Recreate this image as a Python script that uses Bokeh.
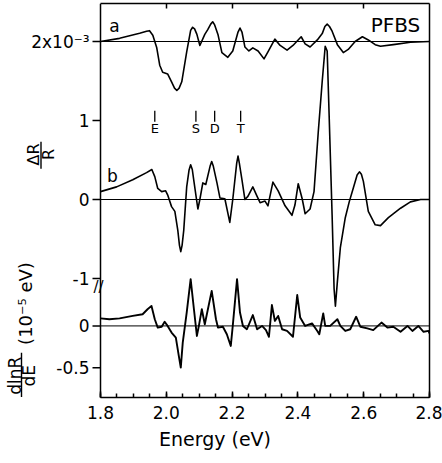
import math
from bokeh.plotting import figure
from bokeh.models import (Range1d, FixedTicker, LinearAxis, Span, Label,
                          ColumnDataSource, PrintfTickFormatter)
from bokeh.core.properties import value
from bokeh.embed import file_html
from bokeh.resources import INLINE

# ---------------- data ----------------
# (a) dR/R in units of 1e-3, drawn on a zero line at 2x10^-3
a_energy = [1.80, 1.858, 1.919, 1.940, 1.949, 1.959, 1.971, 1.980, 1.989, 2.004,
            2.016, 2.025, 2.032, 2.039, 2.047, 2.062, 2.074, 2.080, 2.086, 2.093,
            2.102, 2.117, 2.126, 2.135, 2.141, 2.147, 2.157, 2.169, 2.187, 2.202,
            2.218, 2.224, 2.230, 2.239, 2.251, 2.263, 2.279, 2.297, 2.309, 2.330,
            2.346, 2.367, 2.385, 2.410, 2.422, 2.437, 2.459, 2.474, 2.482, 2.489,
            2.496, 2.504, 2.520, 2.538, 2.553, 2.574, 2.596, 2.614, 2.635, 2.651,
            2.690, 2.742, 2.80]
a_values = [0.0, 0.04, 0.105, 0.13, 0.137, 0.08, -0.08, -0.30, -0.39, -0.41,
            -0.51, -0.59, -0.62, -0.59, -0.51, -0.13, 0.14, 0.18, 0.16, 0.09,
            -0.05, 0.09, 0.15, 0.22, 0.25, 0.21, 0.09, -0.14, -0.20, -0.12,
            0.12, 0.17, 0.12, -0.07, -0.12, -0.08, -0.12, -0.22, -0.13, 0.03,
            -0.05, -0.11, -0.05, 0.06, -0.03, -0.07, 0.02, 0.10, 0.19, 0.22,
            0.19, 0.13, -0.04, -0.14, -0.10, 0.0, 0.06, 0.02, -0.04, -0.06,
            -0.04, -0.01, 0.0]

# (b) dR/R in units of 1e-3
b_energy = [1.80, 1.849, 1.898, 1.940, 1.956, 1.965, 1.974, 1.986, 1.998, 2.004,
            2.016, 2.026, 2.035, 2.040, 2.044, 2.048, 2.053, 2.062, 2.069, 2.074,
            2.079, 2.084, 2.096, 2.102, 2.111, 2.120, 2.133, 2.138, 2.143, 2.154,
            2.163, 2.178, 2.193, 2.202, 2.214, 2.218, 2.222, 2.230, 2.239, 2.248,
            2.263, 2.276, 2.285, 2.300, 2.309, 2.324, 2.340, 2.361, 2.382, 2.391,
            2.401, 2.413, 2.422, 2.437, 2.449, 2.462, 2.474, 2.483, 2.489, 2.495,
            2.504, 2.510, 2.514, 2.520, 2.529, 2.544, 2.556, 2.568, 2.580, 2.587,
            2.593, 2.599, 2.614, 2.635, 2.651, 2.675, 2.712, 2.742, 2.773, 2.80]
b_values = [0.10, 0.16, 0.25, 0.34, 0.38, 0.29, 0.14, 0.10, 0.11, 0.06,
            -0.09, -0.15, -0.39, -0.58, -0.66, -0.58, -0.39, 0.16, 0.37, 0.44,
            0.38, 0.23, -0.12, 0.0, 0.21, 0.19, 0.42, 0.48, 0.42, 0.21,
            0.02, 0.01, -0.29, 0.0, 0.46, 0.55, 0.46, 0.25, 0.0, 0.04,
            0.16, 0.04, -0.04, -0.02, -0.08, 0.22, 0.11, -0.08, -0.20, -0.07,
            0.20, 0.01, -0.18, -0.12, 0.10, 0.86, 1.50, 1.94, 1.88, 1.06,
            -0.20, -1.13, -1.35, -1.04, -0.61, -0.23, -0.03, 0.14, 0.31, 0.35,
            0.32, 0.23, -0.15, -0.32, -0.33, -0.23, -0.11, -0.03, 0.0, 0.0]

# (c) dlnR/dE in units of 1e-5 eV^-1
c_energy = [1.80, 1.827, 1.858, 1.898, 1.928, 1.943, 1.955, 1.965, 1.974, 1.986,
            1.995, 2.004, 2.016, 2.029, 2.038, 2.044, 2.050, 2.062, 2.074, 2.084,
            2.093, 2.099, 2.108, 2.117, 2.138, 2.151, 2.157, 2.172, 2.184, 2.196,
            2.202, 2.215, 2.224, 2.233, 2.245, 2.263, 2.276, 2.291, 2.303, 2.312,
            2.321, 2.330, 2.340, 2.352, 2.367, 2.385, 2.398, 2.407, 2.422, 2.443,
            2.459, 2.465, 2.477, 2.483, 2.498, 2.520, 2.529, 2.544, 2.559, 2.577,
            2.590, 2.611, 2.629, 2.654, 2.672, 2.690, 2.712, 2.733, 2.748, 2.766,
            2.782, 2.797, 2.80]
c_values = [0.09, 0.08, 0.09, 0.12, 0.14, 0.20, 0.24, 0.08, -0.02, -0.01,
            0.05, 0.0, -0.08, -0.14, -0.36, -0.50, -0.20, 0.16, 0.56, 0.20,
            -0.12, 0.0, 0.20, 0.02, 0.42, 0.08, -0.02, -0.01, -0.10, -0.24,
            0.0, 0.56, 0.16, 0.0, -0.04, 0.13, -0.04, 0.0, -0.05, -0.13,
            0.25, 0.06, 0.12, -0.04, -0.06, -0.13, 0.37, 0.10, 0.0, 0.03,
            -0.06, -0.10, 0.15, 0.0, 0.0, 0.08, 0.0, -0.06, -0.04, 0.11,
            -0.01, -0.03, -0.05, 0.04, -0.02, -0.01, -0.07, 0.0, -0.06, 0.0,
            -0.07, -0.06, -0.09]

marker_labels = ["E", "S", "D", "T"]
marker_energy = [1.965, 2.090, 2.147, 2.226]

x_ticks = [1.8, 2.0, 2.2, 2.4, 2.6, 2.8]
x_minor_ticks = [round(1.8 + 0.05 * i, 2) for i in range(21)]
top_ticks = [2.0, 2.2, 2.4, 2.6]

# stacking of the three traces on one vertical scale
A_OFFSET = 2.0
C_OFFSET = -1.60
C_SCALE = 1.056

y_ticks = [A_OFFSET, 1.0, 0.0, -1.0, C_OFFSET, C_OFFSET - 0.5 * C_SCALE]
y_tick_labels = ["2x10\u207b\u00b3", "1", "0", "-1", "0", "-0.5"]

# ---------------- layout ----------------
FONT = "DejaVu Sans"
E_MIN, E_MAX = 1.8, 2.8
LEFT_PX = 100          # room left of the E=1.8 spine (inside the frame)
PLOT_PX = 329          # width of the data box
PX = (E_MAX - E_MIN) / PLOT_PX   # eV per pixel


def sx(px):
    """horizontal layout position (pixels from the left edge) -> energy axis"""
    return E_MIN + (px - LEFT_PX) * PX


p = figure(width=442, height=463, output_backend="svg", toolbar_location=None,
           x_range=Range1d(sx(0), E_MAX), y_range=Range1d(-2.506, 2.481),
           y_axis_location=None,
           min_border_left=0, min_border_right=13, min_border_top=3,
           min_border_bottom=66)
p.xgrid.visible = False
p.ygrid.visible = False
p.outline_line_color = None

xa = p.xaxis[0]
xa.bounds = (E_MIN, E_MAX)
xa.ticker = FixedTicker(ticks=x_ticks, minor_ticks=x_minor_ticks)
xa.formatter = PrintfTickFormatter(format="%.1f")
xa.major_tick_in = 6
xa.major_tick_out = 0
xa.minor_tick_in = 4
xa.minor_tick_out = 0
xa.major_label_standoff = 8
xa.major_label_text_font = FONT
xa.major_label_text_font_size = "17px"
xa.major_label_text_color = "black"
xa.axis_label = "Energy (eV)"
xa.axis_label_text_font = FONT
xa.axis_label_text_font_size = "19px"
xa.axis_label_text_font_style = "normal"
xa.axis_label_text_color = "black"
xa.axis_label_standoff = 6
xa.axis_line_width = 1.5
xa.major_tick_line_width = 1.5
xa.minor_tick_line_width = 1.5

top = LinearAxis(ticker=FixedTicker(ticks=top_ticks, minor_ticks=[]),
                 bounds=(E_MIN, E_MAX),
                 major_label_overrides={t: "" for t in top_ticks},
                 major_tick_in=5, major_tick_out=0, minor_tick_in=0,
                 minor_tick_out=0, major_label_standoff=0,
                 major_label_text_font_size="1px", axis_line_width=1.5,
                 major_tick_line_width=1.5)
p.add_layout(top, "above")

right = LinearAxis(ticker=FixedTicker(ticks=[], minor_ticks=[]),
                   major_tick_in=0, major_tick_out=0, minor_tick_in=0,
                   minor_tick_out=0, major_label_text_font_size="1px",
                   major_label_standoff=0, axis_line_width=1.5)
p.add_layout(right, "right")

# left spine of the data box
p.add_layout(Span(location=E_MIN, dimension="height", line_color="black",
                  line_width=1.5))

# vertical scale: ticks pointing outward and their labels
p.segment(x0=[sx(LEFT_PX - 8)] * len(y_ticks), x1=[E_MIN] * len(y_ticks),
          y0=y_ticks, y1=y_ticks, line_color="black", line_width=1.5)
p.text(x=[sx(LEFT_PX - 11)] * len(y_ticks), y=y_ticks, text=y_tick_labels,
       text_align="right", text_baseline="middle", text_font=value(FONT),
       text_font_size="17px", text_color="black")

# zero lines of the three traces
zero_lines = [A_OFFSET, 0.0, C_OFFSET]
p.segment(x0=[E_MIN] * 3, x1=[E_MAX] * 3, y0=zero_lines, y1=zero_lines,
          line_color="black", line_width=1)

# traces
src_a = ColumnDataSource(dict(x=a_energy, y=[A_OFFSET + v for v in a_values]))
src_b = ColumnDataSource(dict(x=b_energy, y=b_values))
src_c = ColumnDataSource(dict(x=c_energy, y=[C_OFFSET + C_SCALE * v for v in c_values]))
p.line("x", "y", source=src_a, line_color="black", line_width=1.6, line_join="round")
p.line("x", "y", source=src_b, line_color="black", line_width=1.6, line_join="round")
p.line("x", "y", source=src_c, line_color="black", line_width=1.9, line_join="round")

# E S D T markers
p.segment(x0=marker_energy, y0=[0.985] * 4, x1=marker_energy, y1=[1.125] * 4,
          line_color="black", line_width=1.3)
p.text(x=marker_energy, y=[0.895] * 4, text=marker_labels,
       text_align="center", text_baseline="middle",
       text_font=value(FONT), text_font_size="13px", text_color="black")


def lab(x, y, text, size, angle=0.0):
    p.add_layout(Label(x=x, y=y, text=text, angle=angle,
                       text_align="center", text_baseline="middle",
                       text_font=FONT, text_font_size=size,
                       text_color="black"))


lab(sx(114), 2.19, "a", "17px")
lab(sx(112), 0.30, "b", "17px")
lab(sx(395), 2.21, "PFBS", "20px")
lab(sx(98), -1.11, "//", "15px")

# vertical titles (fractions)
R90 = math.pi / 2
lab(sx(33), 0.57, "\u0394R", "16px", R90)
lab(sx(48), 0.57, "R", "16px", R90)
lab(sx(14), -2.23, "dlnR", "17px", R90)
lab(sx(28), -2.23, "dE", "17px", R90)
lab(sx(25), -1.28, "(10\u207b\u2075  eV)", "18px", R90)
p.segment(x0=[sx(40.5), sx(21)], x1=[sx(40.5), sx(21)],
          y0=[0.39, -2.50], y1=[0.73, -1.94], line_color="black", line_width=1.4)

open("out.html", "w").write(file_html(p, INLINE))
